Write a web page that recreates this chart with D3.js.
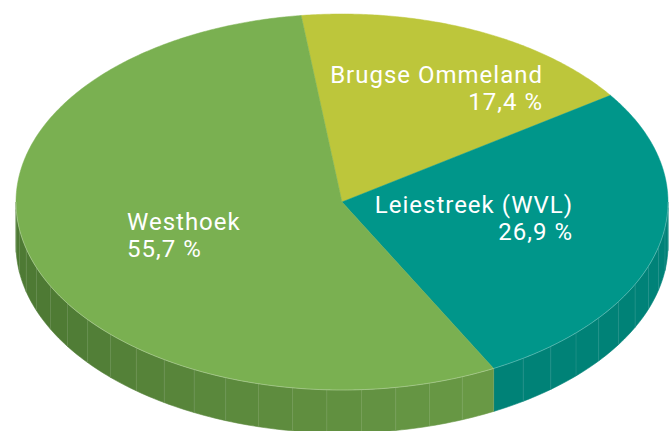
<!DOCTYPE html>
<html>
<head>
<meta charset="utf-8">
<script src="https://cdn.jsdelivr.net/npm/d3@7"></script>
<style>
  html, body { margin: 0; padding: 0; background: #ffffff; }
  svg { display: block; }
</style>
</head>
<body>
<svg id="chart" width="670" height="431"></svg>
<script>
// ---- data ----
const categories = ["Brugse Ommeland", "Leiestreek (WVL)", "Westhoek"];
const values = [17.4, 26.9, 55.7];
const valueLabels = ["17,4 %", "26,9 %", "55,7 %"];

// ---- styling ----
const topColors = ["#BDC63B", "#00968A", "#7AB051"];
const sideLight = ["#A9B232", "#00857A", "#6A9A46"];
const sideDark = ["#8F9628", "#007B71", "#4E7A34"];

const W = 670, H = 431;
const cx = 342, cy = 202, rx = 326, ry = 188, depth = 43;
const startDeg = -7.2;
const facetDeg = 6;

const svg = d3.select("#chart");
const toRad = d => d * Math.PI / 180;
const proj = (t, dy = 0) => [cx + rx * Math.sin(t), cy - ry * Math.cos(t) + dy];

const pie = d3.pie().sort(null).value(d => d.value)
  .startAngle(toRad(startDeg)).endAngle(toRad(startDeg) + 2 * Math.PI);
const arcs = pie(categories.map((c, i) => ({ name: c, value: values[i], i })));

const line = d3.line();

// ---- sides ----
const gSide = svg.append("g");
const seams = [];
arcs.forEach(a => {
  const i = a.data.i;
  const span = a.endAngle - a.startAngle;
  const n = Math.max(1, Math.round(span / toRad(facetDeg)));
  const step = span / n;
  const shade = d3.scaleLinear()
    .domain([Math.PI / 2, Math.PI, 1.5 * Math.PI])
    .range([0.25, 0.35, 1.0]).clamp(true);
  for (let k = 0; k < n; k++) {
    let t0 = a.startAngle + k * step, t1 = t0 + step;
    let lo = Math.max(t0, Math.PI / 2), hi = Math.min(t1, 1.5 * Math.PI);
    if (hi <= lo) continue;
    const pts = [];
    const m = 6;
    for (let j = 0; j <= m; j++) pts.push(proj(lo + (hi - lo) * j / m));
    for (let j = m; j >= 0; j--) pts.push(proj(lo + (hi - lo) * j / m, depth));
    const mid = (t0 + t1) / 2;
    const rel = (mid - a.startAngle) / span;
    const col = d3.interpolateRgb(sideLight[i], sideDark[i])(i === 2 ? Math.min(1, (mid - Math.PI * 0.845) / (Math.PI * 0.5)) : shade(mid));
    gSide.append("path")
      .attr("d", line(pts) + "Z")
      .attr("fill", col)
      .attr("stroke", col)
      .attr("stroke-width", 0.6);
    if (t0 >= Math.PI / 2 && t0 <= 1.5 * Math.PI) seams.push(t0);
  }
});
// seam highlights
seams.forEach((t, k) => {
  const p0 = proj(t), p1 = proj(t, depth);
  gSide.append("line")
    .attr("x1", p0[0]).attr("y1", p0[1])
    .attr("x2", p1[0]).attr("y2", p1[1])
    .attr("stroke", "#ffffff").attr("stroke-opacity", 0.1).attr("stroke-width", 1);
});

// ---- top faces ----
const gTop = svg.append("g");
arcs.forEach(a => {
  const i = a.data.i;
  const pts = [[cx, cy]];
  const n = Math.ceil((a.endAngle - a.startAngle) / toRad(0.5));
  for (let j = 0; j <= n; j++) pts.push(proj(a.startAngle + (a.endAngle - a.startAngle) * j / n));
  gTop.append("path")
    .attr("d", line(pts) + "Z")
    .attr("fill", topColors[i])
    .attr("stroke", topColors[i])
    .attr("stroke-width", 0.5)
    .attr("stroke-linejoin", "round");
});
// front rim highlight
{
  const pts = [];
  for (let j = 0; j <= 180; j++) pts.push(proj(Math.PI / 2 + Math.PI * j / 180));
  gTop.append("path").attr("d", line(pts)).attr("fill", "none")
    .attr("stroke", "#ffffff").attr("stroke-opacity", 0.35).attr("stroke-width", 0.8);
}

// ---- labels ----
const labelLayout = [
  { anchor: "end", dx: 201, dy: -119 },
  { anchor: "end", dx: 231, dy: 11 },
  { anchor: "start", dx: -215, dy: 28 }
];
const lineGap = 27;
const gLab = svg.append("g")
  .attr("font-family", "Roboto, 'DejaVu Sans', sans-serif")
  .attr("font-size", 24)
  .attr("fill", "#ffffff");
arcs.forEach(a => {
  const i = a.data.i, L = labelLayout[i];
  const t = gLab.append("text")
    .attr("text-anchor", L.anchor)
    .attr("letter-spacing", 1.0);
  t.append("tspan").attr("x", cx + L.dx).attr("y", cy + L.dy).text(categories[i]);
  t.append("tspan").attr("x", cx + L.dx).attr("y", cy + L.dy + lineGap).text(valueLabels[i]);
});
</script>
</body>
</html>
